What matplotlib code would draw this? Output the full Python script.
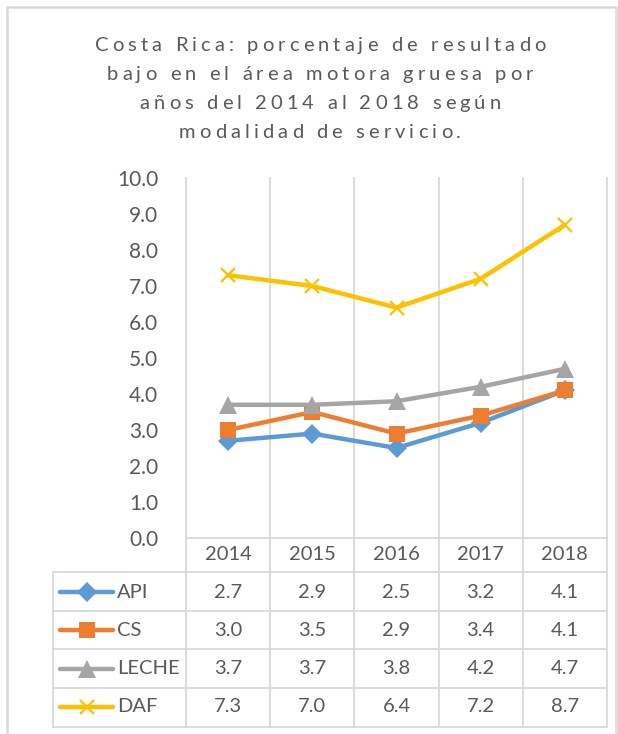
import matplotlib.pyplot as plt
import numpy as np
from matplotlib.transforms import blended_transform_factory
from matplotlib.font_manager import FontProperties

# data
years = ["2014", "2015", "2016", "2017", "2018"]
api = [2.7, 2.9, 2.5, 3.2, 4.1]
cs = [3.0, 3.5, 2.9, 3.4, 4.1]
leche = [3.7, 3.7, 3.8, 4.2, 4.7]
daf = [7.3, 7.0, 6.4, 7.2, 8.7]
series_names = ["API", "CS", "LECHE", "DAF"]
title_lines = ["Costa Rica: porcentaje de resultado",
               "bajo en el área motora gruesa por",
               "años del 2014 al 2018 según",
               "modalidad de servicio."]

W, H = 618, 734
grid_col = "#d9d9d9"
text_col = "#595959"
colors = ["#5b9bd5", "#ed7d31", "#a5a5a5", "#ffc000"]
markers = ["D", "s", "^", "x"]
msizes = [10, 11.5, 12.5, 10]

plt.rcParams['font.family'] = ['Lato', 'DejaVu Sans']

fig = plt.figure(figsize=(W / 100, H / 100), dpi=100)
bg = fig.add_axes([0, 0, 1, 1])
bg.set_xlim(0, W)
bg.set_ylim(H, 0)
bg.axis("off")

# outer chart border (bottom is cut off in the original)
bg.plot([7, 7, 616, 616], [H, 7, 7, H], color=grid_col, lw=1.8)

# plot area
ax = fig.add_axes([186 / W, 1 - 538 / H, 421 / W, 360 / H])
ax.set_facecolor("none")
x = np.arange(len(years))
all_series = [api, cs, leche, daf]
for vals, c, m, ms in zip(all_series, colors, markers, msizes):
    if m == "x":
        ax.plot(x, vals, color=c, lw=3.2, marker=m, ms=ms, mew=1.6,
                solid_capstyle="round", zorder=3, clip_on=False)
    else:
        ax.plot(x, vals, color=c, lw=3.2, marker=m, ms=ms, mec=c, mew=0,
                solid_capstyle="round", zorder=3, clip_on=False)

ax.set_xlim(-0.5, len(years) - 0.5)
ax.set_ylim(0, 10)
ax.set_yticks(np.arange(0, 11, 1))
ax.set_yticklabels([f"{v:.1f}" for v in np.arange(0, 11, 1)])
ax.set_xticks([])
ax.tick_params(axis="y", length=0, pad=20, labelsize=15, labelcolor=text_col)
for s in ["left", "top", "right", "bottom"]:
    ax.spines[s].set_visible(False)

# data table under the plot: x from categories, y in pixels
tr = blended_transform_factory(ax.transData, bg.transData)
bounds = np.arange(-0.5, len(years), 1.0)
for b in bounds:
    bg.plot([b, b], [178, 727], color=grid_col, lw=1.3, transform=tr, zorder=1)
bg.plot([-0.5, len(years) - 0.5], [538, 538], color=grid_col, lw=1.3, transform=tr)
row_edges = [572, 611, 649, 688, 727]
for ye in row_edges:
    bg.plot([53, 186], [ye, ye], color=grid_col, lw=1.3)
    bg.plot([-0.5, len(years) - 0.5], [ye, ye], color=grid_col, lw=1.3, transform=tr)
bg.plot([53, 53], [572, 727], color=grid_col, lw=1.3)

for i, yr in enumerate(years):
    bg.text(i, 555, yr, transform=tr, ha="center", va="center",
            fontsize=14.5, color=text_col)

row_centers = [592, 630, 669, 707]
for r, (name, vals, c, m, ms) in enumerate(zip(series_names, all_series, colors, markers, msizes)):
    yc = row_centers[r]
    for i, v in enumerate(vals):
        bg.text(i, yc, f"{v:.1f}", transform=tr, ha="center", va="center",
                fontsize=14.5, color=text_col)
    bg.plot([60, 113], [yc, yc], color=c, lw=3.2, solid_capstyle="round")
    if m == "x":
        bg.plot([86.5], [yc], color=c, marker=m, ms=ms, mew=1.6)
    else:
        bg.plot([86.5], [yc], color=c, marker=m, ms=ms, mew=0)
    bg.text(117, yc, name, ha="left", va="center", fontsize=14.5, color=text_col)

# title with letter spacing, laid out char by char
renderer = fig.canvas.get_renderer()
tprop = FontProperties(family=["Lato", "DejaVu Sans"], weight="normal", size=14.5)


def tw(s):
    return renderer.get_text_width_height_descent(s, tprop, ismath=False)[0]


def advances(s):
    base = tw("xx")
    return [tw("x" + ch + "x") - base for ch in s]


first = advances(title_lines[0])
spacing = (451 - sum(first)) / (len(title_lines[0]) - 1)
baselines = [51, 80, 109, 138]
for line, yb in zip(title_lines, baselines):
    adv = advances(line)
    total = sum(adv) + spacing * (len(line) - 1)
    xp = 320 - total / 2
    for ch, a in zip(line, adv):
        if ch != " ":
            bg.text(xp, yb, ch, fontproperties=tprop, color=text_col,
                    ha="left", va="baseline")
        xp += a + spacing

fig.savefig("out.png", dpi=100, facecolor="white")
